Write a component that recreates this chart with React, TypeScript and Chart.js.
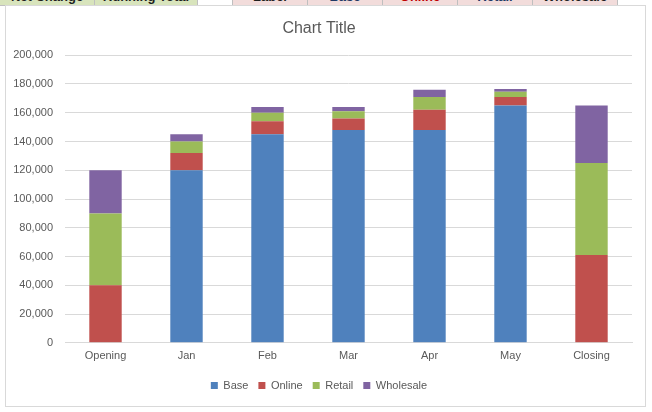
import { useEffect, useRef } from "react";
import { Chart, registerables } from "chart.js";

Chart.register(...registerables);

const categories = ["Opening", "Jan", "Feb", "Mar", "Apr", "May", "Closing"];
const baseValues = [0, 120000, 145000, 148000, 148000, 165000, 0];
const onlineValues = [40000, 12000, 9000, 8000, 14000, 6000, 61000];
const retailValues = [50000, 8000, 6000, 5000, 9000, 3500, 64000];
const wholesaleValues = [30000, 5000, 4000, 3000, 5000, 2000, 40000];

// spreadsheet header cells peeking above the chart
const headerCells = [
  { text: "Net Change", left: 0, width: 94, bg: "#d8e4bc", color: "#1f1f1f" },
  { text: "Running Total", left: 95, width: 102, bg: "#d8e4bc", color: "#1f1f1f" },
  { text: "", left: 198, width: 34, bg: "#ffffff", color: "#1f1f1f" },
  { text: "Label", left: 233, width: 74, bg: "#f2dcdb", color: "#1f1f1f" },
  { text: "Base", left: 308, width: 74, bg: "#f2dcdb", color: "#1f3864" },
  { text: "Online", left: 383, width: 74, bg: "#f2dcdb", color: "#c00000" },
  { text: "Retail", left: 458, width: 74, bg: "#f2dcdb", color: "#1f3864" },
  { text: "Wholesale", left: 533, width: 84, bg: "#f2dcdb", color: "#1f1f1f" },
];

const FONT = "'Liberation Sans', Arial, sans-serif";

export default function App() {
  const chartRef = useRef<HTMLCanvasElement>(null);
  const chartInstance = useRef<Chart | null>(null);

  useEffect(() => {
    if (!chartRef.current) return;
    if (chartInstance.current) chartInstance.current.destroy();
    const ctx = chartRef.current.getContext("2d");
    if (!ctx) return;

    chartInstance.current = new Chart(ctx, {
      type: "bar",
      data: {
        labels: categories,
        datasets: [
          { label: "Base", data: baseValues, backgroundColor: "#4f81bd" },
          { label: "Online", data: onlineValues, backgroundColor: "#c0504d" },
          { label: "Retail", data: retailValues, backgroundColor: "#9bbb59" },
          { label: "Wholesale", data: wholesaleValues, backgroundColor: "#8064a2" },
        ],
      },
      options: {
        responsive: false,
        maintainAspectRatio: false,
        animation: false,
        datasets: {
          bar: { categoryPercentage: 1, barPercentage: 0.4 },
        },
        layout: { padding: { left: 0, right: 13, top: 0, bottom: 5 } },
        plugins: {
          title: {
            display: true,
            text: "Chart Title",
            color: "#595959",
            font: { family: FONT, size: 16, weight: "normal" },
            padding: { top: 13, bottom: 17 },
          },
          legend: {
            position: "bottom",
            labels: {
              color: "#595959",
              font: { family: FONT, size: 11 },
              boxWidth: 7,
              boxHeight: 7,
              padding: 10,
            },
          },
          tooltip: { enabled: false },
        },
        scales: {
          x: {
            stacked: true,
            grid: { display: false, drawTicks: false },
            border: { color: "#d9d9d9" },
            ticks: {
              color: "#595959",
              font: { family: FONT, size: 11 },
              padding: 7,
            },
          },
          y: {
            stacked: true,
            min: 0,
            max: 200000,
            afterFit: (scale: any) => {
              scale.width = 59;
            },
            grid: { color: "#d9d9d9", drawTicks: false },
            border: { display: false },
            ticks: {
              stepSize: 20000,
              color: "#595959",
              font: { family: FONT, size: 11 },
              padding: 12,
              callback: (v: any) => Number(v).toLocaleString("en-US"),
            },
          },
        },
      },
    });

    return () => {
      if (chartInstance.current) {
        chartInstance.current.destroy();
        chartInstance.current = null;
      }
    };
  }, []);

  return (
    <div
      style={{
        position: "fixed",
        left: 0,
        top: 0,
        width: 652,
        height: 412,
        background: "#ffffff",
        overflow: "hidden",
        fontFamily: FONT,
      }}
    >
      {headerCells.map((c) => (
        <div
          key={c.left}
          style={{
            position: "absolute",
            left: c.left,
            top: 0,
            width: c.width,
            height: 5,
            background: c.bg,
            borderRight: "1px solid #bfbfbf",
            borderBottom: "1px solid #bfbfbf",
            overflow: "hidden",
          }}
        >
          <div
            style={{
              position: "absolute",
              left: 0,
              right: 0,
              top: -11.5,
              textAlign: "center",
              fontSize: 13,
              fontWeight: "bold",
              color: c.color,
              fontFamily: "'Liberation Sans', Arial, sans-serif",
            }}
          >
            {c.text}
          </div>
        </div>
      ))}
      <div
        style={{
          position: "absolute",
          left: 5,
          top: 5,
          width: 639,
          height: 400,
          border: "1px solid #d9d9d9",
          background: "#ffffff",
        }}
      >
        <canvas ref={chartRef} width={639} height={400} style={{ display: "block" }} />
      </div>
    </div>
  );
}
